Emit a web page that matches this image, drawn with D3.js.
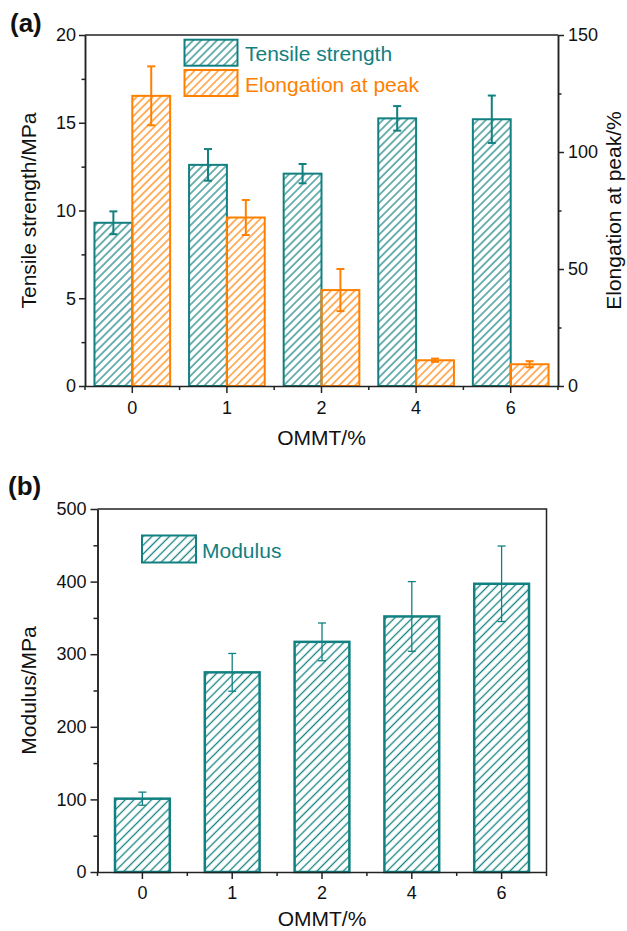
<!DOCTYPE html>
<html>
<head>
<meta charset="utf-8">
<script src="https://cdn.jsdelivr.net/npm/d3@7"></script>
<style>
body { margin: 0; background: #fff; }
svg { font-family: "Liberation Sans", Arial, Helvetica, sans-serif; }
.axis path, .axis line { stroke: #222; stroke-width: 1.5; }
.axis text { font-size: 18px; fill: #111; }
</style>
</head>
<body>
<div id="p"></div>
<script>
// values
var ommt = ["0", "1", "2", "4", "6"];
var tensile = [9.3, 12.6, 12.1, 15.25, 15.2];
var tensileErr = [0.65, 0.9, 0.55, 0.7, 1.35];
var elong = [124, 72, 41, 11, 9.3];
var elongErr = [12.6, 7.5, 9, 0.7, 1.3];
var modulus = [101, 275, 317, 352, 397];
var modulusErr = [9, 26, 26, 48, 52];

var tensileTicks = [0, 5, 10, 15, 20];
var elongTicks = [0, 50, 100, 150];
var modulusTicks = [0, 100, 200, 300, 400, 500];

var teal = "#128080", orange = "#ff8000";

var svg = d3.select("#p").append("svg")
    .attr("width", 627)
    .attr("height", 931);

var defs = svg.append("defs");

function hatch(id, color, gap, sw) {
  var p = defs.append("pattern")
      .attr("id", id)
      .attr("patternUnits", "userSpaceOnUse")
      .attr("width", gap)
      .attr("height", gap)
      .attr("patternTransform", "rotate(45)");
  p.append("line")
      .attr("x1", gap / 2).attr("y1", 0)
      .attr("x2", gap / 2).attr("y2", gap)
      .attr("stroke", color)
      .attr("stroke-width", sw);
}
hatch("hTealA", teal, 5.6, 1.2);
hatch("hOrangeA", orange, 5.6, 1.2);
hatch("hTealB", teal, 6.2, 1.3);

function errBars(g, x, y, vals, errs, color, sw, cap) {
  var e = g.selectAll(null).data(vals).enter().append("g")
      .attr("stroke", color).attr("stroke-width", sw);
  e.append("line")
      .attr("x1", function(d, i) { return x(i); })
      .attr("x2", function(d, i) { return x(i); })
      .attr("y1", function(d, i) { return y(d + errs[i]); })
      .attr("y2", function(d, i) { return y(d - errs[i]); });
  e.append("line")
      .attr("x1", function(d, i) { return x(i) - cap; })
      .attr("x2", function(d, i) { return x(i) + cap; })
      .attr("y1", function(d, i) { return y(d + errs[i]); })
      .attr("y2", function(d, i) { return y(d + errs[i]); });
  e.append("line")
      .attr("x1", function(d, i) { return x(i) - cap; })
      .attr("x2", function(d, i) { return x(i) + cap; })
      .attr("y1", function(d, i) { return y(d - errs[i]); })
      .attr("y2", function(d, i) { return y(d - errs[i]); });
}

function minorX(g, x, y0, len) {
  g.selectAll(null).data(d3.range(ommt.length + 1)).enter().append("line")
      .attr("x1", function(i) { return x.range()[0] + i * x.step(); })
      .attr("x2", function(i) { return x.range()[0] + i * x.step(); })
      .attr("y1", y0).attr("y2", y0 + len)
      .attr("stroke", "#222").attr("stroke-width", 1.5);
}

// ---------- (a) ----------
var A = { l: 85, r: 558, t: 35, b: 386 };
var gA = svg.append("g");

var xA = d3.scaleBand().domain(ommt).range([A.l, A.r]).padding(0);
var xA1 = d3.scaleBand().domain(["ts", "el"]).range([0, xA.step() * 0.8]);
var offA = xA.step() * 0.1;
var yT = d3.scaleLinear().domain([0, 20]).range([A.b, A.t]);
var yE = d3.scaleLinear().domain([0, 150]).range([A.b, A.t]);

gA.selectAll(".ts").data(tensile).enter().append("rect")
    .attr("x", function(d, i) { return xA(ommt[i]) + offA + xA1("ts"); })
    .attr("y", function(d) { return yT(d); })
    .attr("width", xA1.bandwidth())
    .attr("height", function(d) { return yT(0) - yT(d); })
    .attr("fill", "url(#hTealA)")
    .attr("stroke", teal).attr("stroke-width", 2);

gA.selectAll(".el").data(elong).enter().append("rect")
    .attr("x", function(d, i) { return xA(ommt[i]) + offA + xA1("el"); })
    .attr("y", function(d) { return yE(d); })
    .attr("width", xA1.bandwidth())
    .attr("height", function(d) { return yE(0) - yE(d); })
    .attr("fill", "url(#hOrangeA)")
    .attr("stroke", orange).attr("stroke-width", 2);

errBars(gA, function(i) { return xA(ommt[i]) + offA + xA1("ts") + xA1.bandwidth() / 2; },
        yT, tensile, tensileErr, teal, 2, 4);
errBars(gA, function(i) { return xA(ommt[i]) + offA + xA1("el") + xA1.bandwidth() / 2; },
        yE, elong, elongErr, orange, 2, 4);

// axes
gA.append("g").attr("class", "axis")
    .attr("transform", "translate(" + A.l + ",0)")
    .call(d3.axisLeft(yT).tickValues(tensileTicks).tickSize(6).tickSizeOuter(0).tickPadding(3));
gA.append("g").attr("class", "axis")
    .attr("transform", "translate(" + A.l + ",0)")
    .call(d3.axisLeft(yT).tickValues(d3.range(2.5, 20, 5)).tickSize(3.5).tickSizeOuter(0).tickFormat(""));
gA.append("g").attr("class", "axis")
    .attr("transform", "translate(" + A.r + ",0)")
    .call(d3.axisRight(yE).tickValues(elongTicks).tickSize(6).tickSizeOuter(0).tickPadding(4));
gA.append("g").attr("class", "axis")
    .attr("transform", "translate(" + A.r + ",0)")
    .call(d3.axisRight(yE).tickValues([25, 75, 125]).tickSize(3.5).tickSizeOuter(0).tickFormat(""));
gA.append("g").attr("class", "axis")
    .attr("transform", "translate(0," + A.b + ")")
    .call(d3.axisBottom(xA).tickSize(7).tickSizeOuter(0).tickPadding(8));
minorX(gA, xA, A.b, 4);
gA.append("line")
    .attr("x1", A.l).attr("x2", A.r).attr("y1", A.t).attr("y2", A.t)
    .attr("stroke", "#222").attr("stroke-width", 1.5);

// legend
var legA = [["Tensile strength", "hTealA", teal, 39.7], ["Elongation at peak", "hOrangeA", orange, 70]];
legA.forEach(function(L) {
  gA.append("rect").attr("x", 184.5).attr("y", L[3]).attr("width", 53).attr("height", 26)
      .attr("fill", "url(#" + L[1] + ")").attr("stroke", L[2]).attr("stroke-width", 2);
  gA.append("text").attr("x", 245).attr("y", L[3] + 21.5)
      .attr("font-size", 21).attr("fill", L[2]).text(L[0]);
});

// titles
gA.append("text").attr("transform", "translate(36," + (A.t + A.b) / 2 + ") rotate(-90)")
    .attr("text-anchor", "middle").attr("font-size", 21).attr("fill", "#111")
    .text("Tensile strength/MPa");
gA.append("text").attr("transform", "translate(621," + (A.t + A.b) / 2 + ") rotate(-90)")
    .attr("text-anchor", "middle").attr("font-size", 21).attr("fill", "#111")
    .text("Elongation at peak/%");
gA.append("text").attr("x", (A.l + A.r) / 2).attr("y", 445)
    .attr("text-anchor", "middle").attr("font-size", 21).attr("fill", "#111")
    .text("OMMT/%");
gA.append("text").attr("x", 10).attr("y", 31.5)
    .attr("font-size", 26).attr("font-weight", "bold").attr("fill", "#111")
    .text("(a)");

// ---------- (b) ----------
var B = { l: 97.5, r: 546.5, t: 509, b: 872 };
var gB = svg.append("g");

var xB = d3.scaleBand().domain(ommt).range([B.l, B.r]).paddingInner(0.39).paddingOuter(0.195);
var yM = d3.scaleLinear().domain([0, 500]).range([B.b, B.t]);

gB.selectAll(".mod").data(modulus).enter().append("rect")
    .attr("x", function(d, i) { return xB(ommt[i]); })
    .attr("y", function(d) { return yM(d); })
    .attr("width", xB.bandwidth())
    .attr("height", function(d) { return yM(0) - yM(d); })
    .attr("fill", "url(#hTealB)")
    .attr("stroke", teal).attr("stroke-width", 2.5);

errBars(gB, function(i) { return xB(ommt[i]) + xB.bandwidth() / 2; },
        yM, modulus, modulusErr, teal, 1.3, 4);

gB.append("g").attr("class", "axis")
    .attr("transform", "translate(" + B.l + ",0)")
    .call(d3.axisLeft(yM).tickValues(modulusTicks).tickSize(7).tickSizeOuter(0).tickPadding(4));
gB.append("g").attr("class", "axis")
    .attr("transform", "translate(" + B.l + ",0)")
    .call(d3.axisLeft(yM).tickValues(d3.range(50, 500, 100)).tickSize(4).tickSizeOuter(0).tickFormat(""));
gB.append("g").attr("class", "axis")
    .attr("transform", "translate(0," + B.b + ")")
    .call(d3.axisBottom(xB).tickSize(7).tickSizeOuter(0).tickPadding(7));
var xBstep = d3.scaleBand().domain(ommt).range([B.l, B.r]).padding(0);
minorX(gB, xBstep, B.b, 4);
gB.append("path")
    .attr("d", "M" + B.l + "," + B.t + "H" + B.r + "V" + B.b)
    .attr("fill", "none").attr("stroke", "#222").attr("stroke-width", 1.5);

gB.append("rect").attr("x", 142).attr("y", 535.5).attr("width", 54).attr("height", 27)
    .attr("fill", "url(#hTealB)").attr("stroke", teal).attr("stroke-width", 2);
gB.append("text").attr("x", 202).attr("y", 557.5)
    .attr("font-size", 21).attr("fill", teal).text("Modulus");

gB.append("text").attr("transform", "translate(36," + (B.t + B.b) / 2 + ") rotate(-90)")
    .attr("text-anchor", "middle").attr("font-size", 21).attr("fill", "#111")
    .text("Modulus/MPa");
gB.append("text").attr("x", (B.l + B.r) / 2).attr("y", 926)
    .attr("text-anchor", "middle").attr("font-size", 21).attr("fill", "#111")
    .text("OMMT/%");
gB.append("text").attr("x", 8).attr("y", 495)
    .attr("font-size", 26).attr("font-weight", "bold").attr("fill", "#111")
    .text("(b)");
</script>
</body>
</html>
